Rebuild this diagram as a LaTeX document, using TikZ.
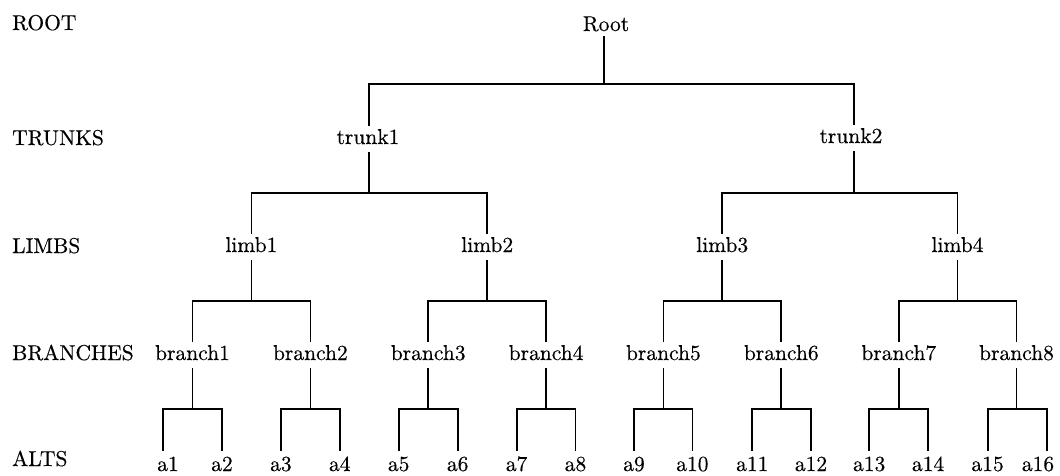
\documentclass[tikz,border=0pt]{standalone}
\usepackage{fontspec}
\newfontfamily\treefont{lmroman10-regular.otf}[FakeBold=0.35]
\begin{document}
\begin{tikzpicture}[x=1pt,y=-1pt,
  lvl/.style={anchor=base west,inner sep=0pt,font=\treefont\fontsize{21.5}{26}\selectfont},
  nd/.style={anchor=base,inner xsep=0pt,inner ysep=2pt,text height=16pt,text depth=6pt,
             font=\treefont\fontsize{21.5}{26}\selectfont},
  edge/.style={draw=black,line width=1.8pt}]
\useasboundingbox (0,0) rectangle (1060,475);

% level captions
\node[lvl] (lroot)   at (12,30)  {ROOT};
\node[lvl] (ltrunk)  at (12,145) {TRUNKS};
\node[lvl] (llimb)   at (12,253) {LIMBS};
\node[lvl] (lbranch) at (12,360) {BRANCHES};
\node[lvl] (lalt)    at (12,466) {ALTS};

% tree nodes
\node[nd] (root)   at (606,31)  {Root};
\node[nd] (trunk1) at (368,144) {trunk1};
\node[nd] (trunk2) at (851,143) {trunk2};

\node[nd] (limb1) at (251.4,252) {limb1};
\node[nd] (limb2) at (487.2,252) {limb2};
\node[nd] (limb3) at (722.2,252) {limb3};
\node[nd] (limb4) at (957.5,252) {limb4};

\node[nd] (branch1) at (192.5,360) {branch1};
\node[nd] (branch2) at (310.4,360) {branch2};
\node[nd] (branch3) at (428.2,360) {branch3};
\node[nd] (branch4) at (546.1,360) {branch4};
\node[nd] (branch5) at (663.4,360) {branch5};
\node[nd] (branch6) at (781.3,360) {branch6};
\node[nd] (branch7) at (898.8,360) {branch7};
\node[nd] (branch8) at (1016.5,360) {branch8};

\node[nd] (a1)  at (168,471)    {a1};
\node[nd] (a2)  at (222,471)    {a2};
\node[nd] (a3)  at (280.9,471)  {a3};
\node[nd] (a4)  at (339.8,471)  {a4};
\node[nd] (a5)  at (398.7,471)  {a5};
\node[nd] (a6)  at (457.7,471)  {a6};
\node[nd] (a7)  at (516.6,471)  {a7};
\node[nd] (a8)  at (575.5,471)  {a8};
\node[nd] (a9)  at (634,471)    {a9};
\node[nd] (a10) at (692.4,471)  {a10};
\node[nd] (a11) at (752.3,471)  {a11};
\node[nd] (a12) at (811,471)    {a12};
\node[nd] (a13) at (869.2,471)  {a13};
\node[nd] (a14) at (928.1,471)  {a14};
\node[nd] (a15) at (987.6,471)  {a15};
\node[nd] (a16) at (1038,471)   {a16};

% junction points of each bracket
\coordinate (jroot)   at (604,84);
\coordinate (jtrunk1) at (369,193);
\coordinate (jtrunk2) at (854,193);
\coordinate (jlimb1)  at (251.4,301);
\coordinate (jlimb2)  at (487.2,301);
\coordinate (jlimb3)  at (722.2,301);
\coordinate (jlimb4)  at (957.5,301);
\foreach \i/\x in {1/192.5,2/310.4,3/428.2,4/546.1,5/663.4,6/781.3,7/898.8,8/1016.5}
  \coordinate (jbranch\i) at (\x,409);

% brackets: parent down to the bar, bar across to the children
\draw[edge] ([xshift=-2pt,yshift=3pt]root.south) -- (jroot);
\draw[edge] ([xshift=1pt]trunk1.north) |- (jroot) -| ([xshift=3pt]trunk2.north);

\draw[edge] ([xshift=1pt]trunk1.south) -- (jtrunk1);
\draw[edge] (limb1.north) |- (jtrunk1) -| (limb2.north);
\draw[edge] ([xshift=3pt]trunk2.south) -- (jtrunk2);
\draw[edge] (limb3.north) |- (jtrunk2) -| (limb4.north);

\draw[edge] (limb1.south) -- (jlimb1);
\draw[edge] (branch1.north) |- (jlimb1) -| (branch2.north);
\draw[edge] (limb2.south) -- (jlimb2);
\draw[edge] (branch3.north) |- (jlimb2) -| (branch4.north);
\draw[edge] (limb3.south) -- (jlimb3);
\draw[edge] (branch5.north) |- (jlimb3) -| (branch6.north);
\draw[edge] (limb4.south) -- (jlimb4);
\draw[edge] (branch7.north) |- (jlimb4) -| (branch8.north);

\draw[edge] (branch1.south) -- (jbranch1);
\draw[edge] ([xshift=-5pt,yshift=2pt]a1.north) |- (jbranch1) -| ([yshift=2pt]a2.north);
\draw[edge] (branch2.south) -- (jbranch2);
\draw[edge] ([yshift=2pt]a3.north) |- (jbranch2) -| ([yshift=2pt]a4.north);
\draw[edge] (branch3.south) -- (jbranch3);
\draw[edge] ([yshift=2pt]a5.north) |- (jbranch3) -| ([yshift=2pt]a6.north);
\draw[edge] (branch4.south) -- (jbranch4);
\draw[edge] ([yshift=2pt]a7.north) |- (jbranch4) -| ([yshift=2pt]a8.north);
\draw[edge] (branch5.south) -- (jbranch5);
\draw[edge] ([yshift=2pt]a9.north) |- (jbranch5) -| ([yshift=2pt]a10.north);
\draw[edge] (branch6.south) -- (jbranch6);
\draw[edge] ([yshift=2pt]a11.north) |- (jbranch6) -| ([yshift=2pt]a12.north);
\draw[edge] (branch7.south) -- (jbranch7);
\draw[edge] ([yshift=2pt]a13.north) |- (jbranch7) -| ([yshift=2pt]a14.north);
\draw[edge] (branch8.south) -- (jbranch8);
\draw[edge] ([yshift=2pt]a15.north) |- (jbranch8) -| ([xshift=9pt,yshift=2pt]a16.north);
\end{tikzpicture}
\end{document}
